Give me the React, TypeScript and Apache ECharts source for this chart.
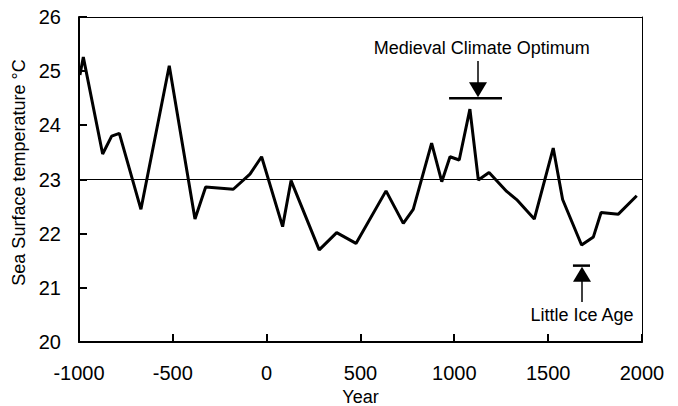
import React, { useEffect, useRef } from "react";
import * as echarts from "echarts";

const years = [-995, -977, -874, -826, -785, -670, -519, -382, -325, -178, -89, -27, 85, 130, 280, 373, 476, 636, 728, 781, 879, 933, 977, 1026, 1083, 1128, 1185, 1279, 1332, 1426, 1527, 1577, 1678, 1741, 1782, 1874, 1972];
const temps = [24.93, 25.26, 23.47, 23.8, 23.85, 22.45, 25.1, 22.27, 22.86, 22.82, 23.1, 23.42, 22.13, 22.98, 21.7, 22.02, 21.82, 22.79, 22.19, 22.45, 23.67, 22.96, 23.42, 23.36, 24.3, 22.99, 23.13, 22.78, 22.63, 22.27, 23.58, 22.63, 21.79, 21.94, 22.39, 22.36, 22.7];
const referenceTemp = 23;
const xTicks = [-1000, -500, 0, 500, 1000, 1500, 2000];
const yTicks = [20, 21, 22, 23, 24, 25, 26];

// annotations in data coordinates
const mcoBar = [972, 1254, 24.5];
const mcoArrow = [1126, 25.19];
const mcoLabel = ["Medieval Climate Optimum", 1146, 25.43];
const liaBar = [1632, 1723, 21.41];
const liaArrow = [1679, 20.74];
const liaLabel = ["Little Ice Age", 1680, 20.49];

const FONT = "'Liberation Sans', Arial, sans-serif";

export default function App() {
  const ref = useRef<HTMLDivElement>(null);
  useEffect(() => {
    if (!ref.current) return;
    const chart = echarts.init(ref.current, null, { renderer: "svg" });
    chart.setOption({
      animation: false,
      backgroundColor: "#fff",
      grid: {
        left: 79, right: 36, top: 17, bottom: 64,
        show: false, containLabel: false, outerBoundsMode: "none",
      },
      xAxis: [
        {
          type: "value", min: -1000, max: 2000, interval: 500, position: "bottom",
          name: "Year", nameLocation: "middle", nameGap: 45,
          nameTextStyle: { fontFamily: FONT, fontSize: 18, color: "#000" },
          axisLine: { show: true, onZero: false, lineStyle: { color: "#000", width: 2 } },
          axisTick: { show: false },
          axisLabel: { fontFamily: FONT, fontSize: 20, color: "#000", margin: 21, formatter: (v: number) => String(v) },
          splitLine: { show: false },
        },
        {
          type: "value", min: -1000, max: 2000, interval: 500, position: "top",
          axisLine: { show: true, onZero: false, lineStyle: { color: "#000", width: 1 } },
          axisTick: { show: false }, axisLabel: { show: false }, splitLine: { show: false },
        },
      ],
      yAxis: [
        {
          type: "value", min: 20, max: 26, interval: 1, position: "left",
          name: "Sea Surface temperature °C", nameLocation: "middle", nameGap: 46,
          nameTextStyle: { fontFamily: FONT, fontSize: 18, color: "#000", padding: [0, 0, 0, 14] },
          axisLine: { show: true, onZero: false, lineStyle: { color: "#000", width: 2 } },
          axisTick: { show: false },
          axisLabel: { fontFamily: FONT, fontSize: 20, color: "#000", margin: 18 },
          splitLine: { show: false },
        },
        {
          type: "value", min: 20, max: 26, interval: 1, position: "right",
          axisLine: { show: true, onZero: false, lineStyle: { color: "#000", width: 1 } },
          axisTick: { show: false }, axisLabel: { show: false }, splitLine: { show: false },
        },
      ],
      series: [
        {
          type: "line",
          xAxisIndex: 0,
          yAxisIndex: 0,
          data: years.map((y, i) => [y, temps[i]]),
          symbol: "none",
          lineStyle: { color: "#000", width: 3 },
          markLine: {
            silent: true,
            symbol: ["none", "none"],
            label: { show: false },
            lineStyle: { color: "#000", width: 1, type: "solid" },
            data: [{ yAxis: referenceTemp }],
          },
        },
      ],
    });

    const p = (x: number, y: number) => chart.convertToPixel({ gridIndex: 0 }, [x, y]) as number[];
    const ticks: any[] = [];
    xTicks.forEach((t) => {
      const a = p(t, 20);
      const x = Math.round(a[0]);
      ticks.push({ type: "rect", z: 100, shape: { x: x - 1, y: a[1] - 8, width: 2, height: 8 }, style: { fill: "#000" } });
    });
    yTicks.forEach((t) => {
      const a = p(-1000, t);
      const y = Math.round(a[1]);
      ticks.push({ type: "rect", z: 100, shape: { x: a[0], y: y - 1, width: 8, height: 2 }, style: { fill: "#000" } });
    });
    const m1 = p(mcoBar[0], mcoBar[2]);
    const m2 = p(mcoBar[1], mcoBar[2]);
    const ma = p(mcoArrow[0], mcoArrow[1]);
    const ml = p(mcoLabel[1] as number, mcoLabel[2] as number);
    const l1 = p(liaBar[0], liaBar[2]);
    const l2 = p(liaBar[1], liaBar[2]);
    const la = p(liaArrow[0], liaArrow[1]);
    const ll = p(liaLabel[1] as number, liaLabel[2] as number);
    const ax = Math.round(ma[0]);
    const lx = Math.round(la[0]);
    chart.setOption({
      graphic: [
        ...ticks,
        { type: "line", shape: { x1: m1[0], y1: m1[1], x2: m2[0], y2: m2[1] }, style: { stroke: "#000", lineWidth: 2.5 } },
        { type: "line", shape: { x1: ax, y1: ma[1], x2: ax, y2: m1[1] - 14 }, style: { stroke: "#000", lineWidth: 1.5 } },
        { type: "polygon", shape: { points: [[ax - 9, m1[1] - 16], [ax + 9, m1[1] - 16], [ax, m1[1] - 1]] }, style: { fill: "#000" } },
        { type: "text", x: ml[0], y: ml[1], style: { text: mcoLabel[0] as string, fontFamily: FONT, fontSize: 18, fill: "#000", align: "center", verticalAlign: "middle" } },
        { type: "line", shape: { x1: l1[0], y1: l1[1], x2: l2[0], y2: l2[1] }, style: { stroke: "#000", lineWidth: 2.5 } },
        { type: "polygon", shape: { points: [[lx - 9, l1[1] + 16], [lx + 9, l1[1] + 16], [lx, l1[1] + 1]] }, style: { fill: "#000" } },
        { type: "line", shape: { x1: lx, y1: l1[1] + 14, x2: lx, y2: la[1] }, style: { stroke: "#000", lineWidth: 1.5 } },
        { type: "text", x: ll[0], y: ll[1], style: { text: liaLabel[0] as string, fontFamily: FONT, fontSize: 18, fill: "#000", align: "center", verticalAlign: "middle" } },
      ],
    });
    return () => chart.dispose();
  }, []);
  return <div ref={ref} style={{ width: 678, height: 406, position: "absolute", left: 0, top: 0 }} />;
}
